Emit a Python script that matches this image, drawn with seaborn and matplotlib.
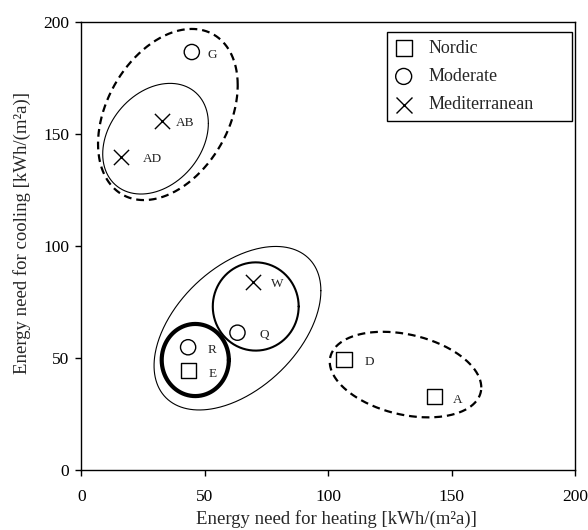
import numpy as np
import pandas as pd
import seaborn as sns
import matplotlib.pyplot as plt

# building codes, climate zone and energy needs [kWh/(m2a)]
codes = ['A', 'D', 'E', 'G', 'Q', 'R', 'W', 'AB', 'AD']
climate = ['Nordic', 'Nordic', 'Nordic', 'Moderate', 'Moderate', 'Moderate',
           'Mediterranean', 'Mediterranean', 'Mediterranean']
heating = [143.0, 106.4, 43.2, 44.7, 63.2, 43.2, 69.3, 32.5, 15.9]
cooling = [32.7, 49.4, 44.3, 186.6, 61.3, 54.8, 84.1, 156.0, 139.9]

climates = ['Nordic', 'Moderate', 'Mediterranean']
climate_markers = ['s', 'o', 'x']
ticks = [0, 50, 100, 150, 200]

# label offsets (points) for the code next to each marker
label_dx = {'A': 13, 'D': 15, 'E': 15, 'G': 11, 'Q': 16, 'R': 14, 'W': 13, 'AB': 10, 'AD': 16}

# group outlines: centre x, centre y, half width, half height, skew of top point, lw, style
groups = [
    (35.0, 158.7, 28.3, 38.2, 9.7, 1.6, (0, (3.5, 2.2))),
    (30.0, 147.9, 21.4, 24.7, 5.9, 0.8, '-'),
    (63.2, 63.3, 33.8, 36.5, 15.5, 0.8, '-'),
    (70.6, 73.0, 17.4, 19.7, 0.0, 1.5, '-'),
    (46.1, 49.1, 13.6, 16.1, 0.0, 3.0, '-'),
    (131.3, 42.6, 30.7, 19.1, -9.2, 1.6, (0, (3.5, 2.2))),
]

df = pd.DataFrame({'code': codes, 'climate': climate, 'heating': heating, 'cooling': cooling})

sns.set_theme(style='white')
plt.rcParams['font.family'] = ['Liberation Serif', 'DejaVu Serif']

fig, ax = plt.subplots(figsize=(5.88, 5.30), dpi=100)
fig.subplots_adjust(left=0.1386, right=0.978, bottom=0.1132, top=0.9585)

for name, mk in zip(climates, climate_markers):
    sub = df[df['climate'] == name]
    sns.scatterplot(data=sub, x='heating', y='cooling', marker=mk, s=120,
                    color='black', facecolor='none' if mk != 'x' else 'black',
                    edgecolor='black', linewidth=1.0, label=name, ax=ax, zorder=3)

for _, row in df.iterrows():
    ax.annotate(row['code'], (row['heating'], row['cooling']),
                xytext=(label_dx[row['code']], -2), textcoords='offset points',
                ha='left', va='center', fontsize=9.5, color='#222222')

t = np.linspace(0, 2 * np.pi, 400)
for cx, cy, hw, hh, d, lw, ls in groups:
    phi = np.arcsin(d / hw)
    ax.plot(cx + hw * np.cos(t), cy + hh * np.sin(t + phi), color='black',
            lw=lw, linestyle=ls, zorder=2)

ax.set_xlim(0, 200)
ax.set_ylim(0, 200)
ax.set_xticks(ticks)
ax.set_yticks(ticks)
ax.tick_params(axis='both', direction='out', length=4, width=1, color='black',
               labelsize=12.5, labelcolor='black', left=True, bottom=True)
ax.tick_params(axis='x', pad=10)
ax.tick_params(axis='y', pad=5)
for sp in ax.spines.values():
    sp.set_color('black')
    sp.set_linewidth(1.0)

ax.set_xlabel('Energy need for heating [kWh/(m²a)]', fontsize=13.5)
ax.set_ylabel('Energy need for cooling [kWh/(m²a)]', fontsize=13.5)
ax.xaxis.set_label_coords(0.516, -0.089)
ax.yaxis.set_label_coords(-0.102, 0.53)

leg = ax.legend(loc='upper left', bbox_to_anchor=(0.618, 0.5, 0.375, 0.478),
                mode='expand', borderaxespad=0, fontsize=13, frameon=True,
                fancybox=False, framealpha=1, edgecolor='black',
                handlelength=1.0, handletextpad=0.9, borderpad=0.45,
                labelspacing=0.62, markerscale=1.05)
leg.get_frame().set_linewidth(1.0)

fig.savefig('out.png', dpi=100)
